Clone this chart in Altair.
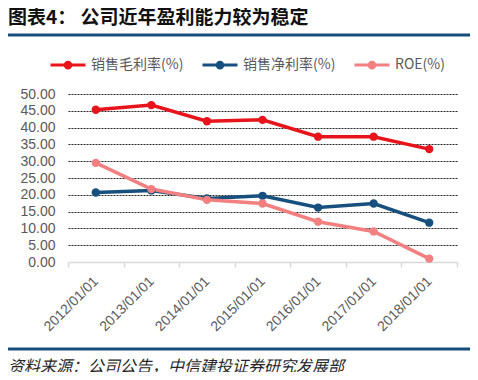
import altair as alt
import pandas as pd

dates = ["2012/01/01", "2013/01/01", "2014/01/01", "2015/01/01",
         "2016/01/01", "2017/01/01", "2018/01/01"]
series_names = ["销售毛利率(%)", "销售净利率(%)", "ROE(%)"]
gross_margin = [45.3, 46.7, 41.9, 42.3, 37.3, 37.3, 33.6]
net_margin = [20.7, 21.3, 18.9, 19.7, 16.2, 17.4, 11.7]
roe = [29.5, 21.7, 18.5, 17.4, 12.0, 9.1, 1.0]
colors = ["#E8141B", "#17507E", "#F28080"]
y_ticks = [0, 5, 10, 15, 20, 25, 30, 35, 40, 45, 50]

title_text = "图表4： 公司近年盈利能力较为稳定"
source_text = "资料来源：公司公告，中信建投证券研究发展部"

rows = []
for name, vals in zip(series_names, [gross_margin, net_margin, roe]):
    for d, v in zip(dates, vals):
        rows.append({"date": d, "series": name, "value": v})
df = pd.DataFrame(rows)

sym_path = "M-1,0L1,0M-0.16,0A0.16,0.16,0,1,1,0.16,0A0.16,0.16,0,1,1,-0.16,0Z"

lines = alt.Chart(df).mark_line(
    strokeWidth=3.5,
    point=alt.OverlayMarkDef(filled=True, size=70),
).encode(
    x=alt.X("date:N", sort=dates, title=None,
            scale=alt.Scale(paddingInner=0, paddingOuter=0),
            axis=alt.Axis(labelAngle=315, labelAlign="right", labelBaseline="middle",
                          labelPadding=12, labelFont="Liberation Sans", labelFontSize=14,
                          labelColor="#595959", domainColor="#D9D9D9", domainWidth=1.5,
                          tickColor="#D9D9D9", tickSize=5, tickWidth=1.5, tickBand="extent",
                          grid=False)),
    y=alt.Y("value:Q", title=None,
            scale=alt.Scale(domain=[0, 50], nice=False, zero=True),
            axis=alt.Axis(values=y_ticks, format=".2f", domain=False, ticks=False,
                          labelPadding=13, labelFont="Liberation Sans", labelFontSize=14,
                          labelColor="#595959", gridColor="#262626", gridDash=[2, 1],
                          gridWidth=1,
                          gridOpacity={"condition": {"test": "datum.value === 0", "value": 0},
                                       "value": 1})),
    color=alt.Color("series:N", sort=series_names,
                    scale=alt.Scale(domain=series_names, range=colors),
                    legend=alt.Legend(title=None, orient="none", direction="horizontal",
                                      legendX=-19, legendY=-48,
                                      symbolType=sym_path, symbolSize=1225,
                                      symbolStrokeWidth=3,
                                      labelFont="Noto Sans CJK SC", labelFontSize=14,
                                      labelColor="#595959", labelOffset=4,
                                      columnPadding=12, gridAlign="all")),
)

title_df = pd.DataFrame({"t": [title_text]})
source_df = pd.DataFrame({"t": [source_text]})

title = alt.Chart(title_df).mark_text(
    align="left", baseline="middle", font="Noto Sans CJK SC", fontSize=19,
    fontWeight="bold", color="#111111",
).encode(x=alt.value(-60), y=alt.value(-76), text="t:N")

source = alt.Chart(source_df).mark_text(
    align="left", baseline="middle", font="Noto Sans CJK SC", fontSize=16,
    fontStyle="italic", color="#262626",
).encode(x=alt.value(-60), y=alt.value(273), text="t:N")

top_rule = alt.Chart(title_df).mark_rule(color="#164C7A", strokeWidth=3).encode(
    x=alt.value(-60), x2=alt.value(407), y=alt.value(-59))
bottom_rule = alt.Chart(title_df).mark_rule(color="#164C7A", strokeWidth=3).encode(
    x=alt.value(-60), x2=alt.value(407), y=alt.value(255))

chart = alt.layer(lines, title, source, top_rule, bottom_rule).properties(
    width=389, height=168,
    autosize=alt.AutoSizeParams(type="none"),
    padding={"left": 60, "top": 86, "right": 13, "bottom": 110},
).configure_view(stroke=None)

chart.save("out.html", embed_options={"renderer": "svg", "actions": False})
